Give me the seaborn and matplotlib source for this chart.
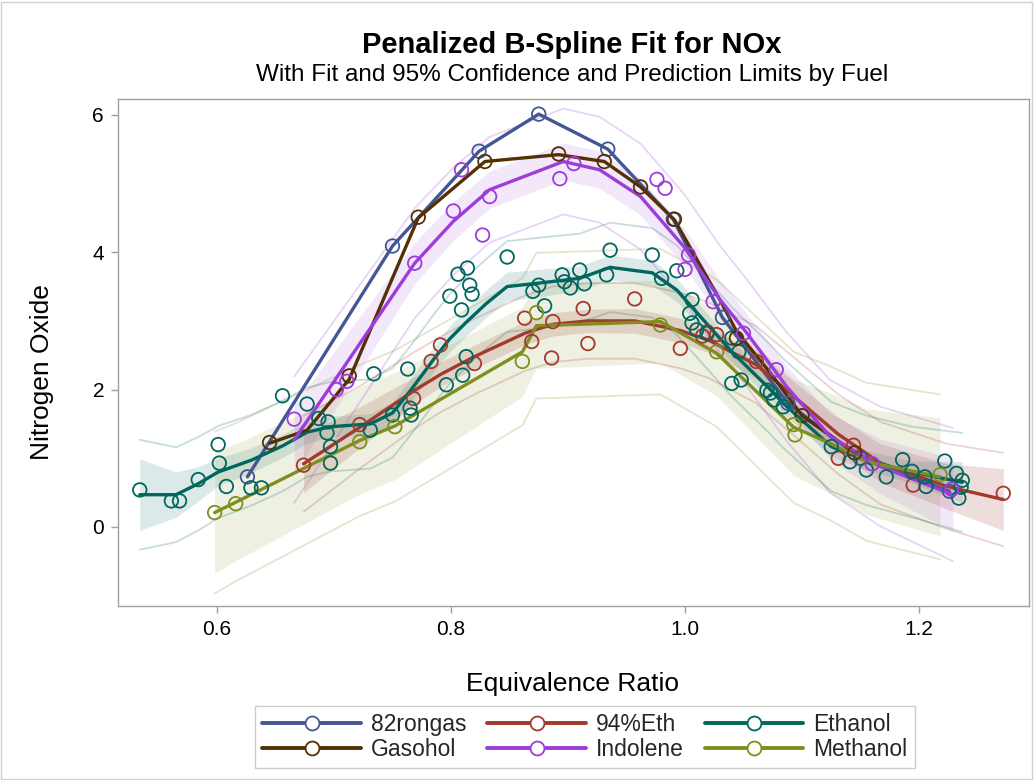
import numpy as np
import pandas as pd
import matplotlib
matplotlib.use("Agg")
import matplotlib.pyplot as plt
import seaborn as sns
from matplotlib.lines import Line2D
from matplotlib.patches import Rectangle

sns.set_theme(style="white")
plt.rcParams["font.family"] = ["Liberation Sans", "DejaVu Sans"]

fuels = ["82rongas", "94%Eth", "Ethanol", "Gasohol", "Indolene", "Methanol"]
colors = ["#445694", "#A23A2E", "#01665E", "#543005", "#9D3CDB", "#7F8E1F"]

# ---------------- observations ----------------
rongas_x = [0.626, 0.750, 0.824, 0.875, 0.934, 0.990, 1.032, 1.088, 1.150, 1.226]
rongas_y = [0.73, 4.09, 5.47, 6.01, 5.50, 4.48, 3.05, 1.80, 1.00, 0.52]

eth94_x = [0.674, 0.722, 0.768, 0.783, 0.791, 0.820, 0.863, 0.869, 0.886, 0.887, 0.913,
           0.917, 0.957, 0.996, 1.015, 1.019, 1.027, 1.061, 1.131, 1.144, 1.195, 1.272]
eth94_y = [0.90, 1.49, 1.87, 2.41, 2.65, 2.38, 3.04, 2.70, 2.46, 2.99, 3.18,
           2.67, 3.32, 2.60, 2.78, 2.84, 2.80, 2.41, 1.00, 1.19, 0.61, 0.49]

ethanol_x = [0.534, 0.561, 0.568, 0.584, 0.601, 0.602, 0.608, 0.629, 0.638, 0.656, 0.677,
             0.687, 0.695, 0.694, 0.697, 0.697, 0.731, 0.734, 0.750, 0.763, 0.765, 0.766,
             0.796, 0.799, 0.806, 0.809, 0.810, 0.813, 0.814, 0.816, 0.818, 0.848, 0.870,
             0.875, 0.880, 0.895, 0.897, 0.902, 0.910, 0.914, 0.933, 0.936, 0.972, 0.980,
             0.993, 1.004, 1.006, 1.006, 1.010, 1.019, 1.040, 1.040, 1.046, 1.048, 1.070,
             1.073, 1.076, 1.084, 1.125, 1.141, 1.155, 1.172, 1.186, 1.194, 1.205, 1.206,
             1.222, 1.232, 1.237, 1.236, 1.234]
ethanol_y = [0.54, 0.38, 0.38, 0.69, 1.20, 0.93, 0.59, 0.57, 0.57, 1.91, 1.79,
             1.58, 1.53, 1.37, 1.17, 0.93, 1.41, 2.23, 1.63, 2.30, 1.73, 1.63,
             2.07, 3.36, 3.68, 3.16, 2.21, 2.48, 3.77, 3.52, 3.39, 3.93, 3.43,
             3.52, 3.22, 3.67, 3.57, 3.48, 3.74, 3.54, 3.67, 4.03, 3.96, 3.62,
             3.73, 3.11, 3.31, 2.97, 2.87, 2.82, 2.75, 2.09, 2.55, 2.14, 1.99,
             1.95, 1.85, 1.75, 1.17, 0.95, 0.83, 0.73, 0.98, 0.81, 0.73, 0.59,
             0.96, 0.78, 0.68, 0.58, 0.42]

gasohol_x = [0.645, 0.713, 0.772, 0.829, 0.892, 0.931, 0.962, 0.991, 1.044, 1.100, 1.145]
gasohol_y = [1.23, 2.20, 4.51, 5.32, 5.43, 5.32, 4.95, 4.48, 2.75, 1.62, 1.08]

indolene_x = [0.666, 0.702, 0.711, 0.769, 0.802, 0.809, 0.827, 0.833, 0.893, 0.905,
              0.976, 0.983, 1.000, 1.003, 1.024, 1.050, 1.078, 1.160, 1.228]
indolene_y = [1.57, 2.00, 2.12, 3.84, 4.60, 5.20, 4.25, 4.81, 5.07, 5.29,
              5.06, 4.93, 3.75, 3.96, 3.28, 2.82, 2.29, 0.92, 0.55]

methanol_x = [0.598, 0.616, 0.722, 0.752, 0.861, 0.873, 0.979, 1.027, 1.093, 1.094, 1.218]
methanol_y = [0.21, 0.34, 1.24, 1.46, 2.41, 3.12, 2.94, 2.55, 1.49, 1.34, 0.76]

# ---------------- fitted curves ----------------
rongas_fx = [0.626, 0.750, 0.824, 0.875, 0.934, 0.990, 1.032, 1.088, 1.150, 1.226]
rongas_fy = [0.73, 4.09, 5.47, 6.01, 5.50, 4.48, 3.05, 1.80, 1.00, 0.52]

eth94_fx = [0.674, 0.722, 0.768, 0.791, 0.820, 0.863, 0.887, 0.917, 0.957, 0.996, 1.020,
            1.061, 1.100, 1.131, 1.167, 1.224, 1.272]
eth94_fy = [0.92, 1.45, 1.98, 2.22, 2.48, 2.82, 2.95, 3.00, 3.00, 2.86, 2.72,
            2.36, 1.80, 1.35, 0.93, 0.59, 0.40]
eth94_clm = [0.42, 0.30, 0.20, 0.18, 0.17, 0.17, 0.17, 0.17, 0.18, 0.18, 0.18,
             0.20, 0.22, 0.25, 0.28, 0.33, 0.45]
eth94_pi = [0.70, 0.60, 0.56, 0.55, 0.55, 0.55, 0.55, 0.55, 0.55, 0.55, 0.55,
            0.56, 0.57, 0.58, 0.60, 0.62, 0.68]

ethanol_fx = [0.534, 0.565, 0.584, 0.601, 0.629, 0.656, 0.677, 0.697, 0.731, 0.750, 0.766,
              0.786, 0.799, 0.813, 0.830, 0.848, 0.875, 0.910, 0.936, 0.972, 0.993, 1.006,
              1.040, 1.073, 1.084, 1.125, 1.155, 1.194, 1.237]
ethanol_fy = [0.47, 0.47, 0.63, 0.80, 0.97, 1.18, 1.38, 1.46, 1.50, 1.66, 2.00,
              2.46, 2.74, 2.98, 3.25, 3.50, 3.55, 3.62, 3.78, 3.70, 3.45, 3.20,
              2.55, 2.00, 1.80, 1.17, 0.97, 0.80, 0.65]
ethanol_clm = [0.52, 0.33, 0.25, 0.20, 0.18, 0.17, 0.16, 0.15, 0.15, 0.16, 0.17,
               0.18, 0.19, 0.20, 0.20, 0.21, 0.20, 0.18, 0.18, 0.18, 0.17, 0.16,
               0.15, 0.15, 0.15, 0.14, 0.14, 0.16, 0.30]
ethanol_pi = [0.80, 0.69, 0.68, 0.67, 0.66, 0.66, 0.65, 0.65, 0.65, 0.65, 0.65,
              0.65, 0.65, 0.65, 0.65, 0.66, 0.66, 0.65, 0.65, 0.65, 0.65, 0.65,
              0.65, 0.65, 0.65, 0.65, 0.65, 0.66, 0.72]

gasohol_fx = [0.645, 0.677, 0.713, 0.772, 0.829, 0.892, 0.931, 0.962, 0.991, 1.030, 1.044,
              1.073, 1.100, 1.145]
gasohol_fy = [1.22, 1.41, 2.15, 4.50, 5.32, 5.42, 5.32, 4.95, 4.47, 3.30, 2.85,
              2.24, 1.62, 1.08]

indolene_fx = [0.666, 0.769, 0.802, 0.833, 0.896, 0.927, 0.962, 0.999, 1.030, 1.053,
               1.087, 1.124, 1.167, 1.229]
indolene_fy = [1.27, 3.84, 4.45, 4.91, 5.32, 5.20, 4.81, 4.08, 3.31, 2.82,
               2.04, 1.32, 0.88, 0.47]
indolene_clm = [0.50, 0.30, 0.28, 0.27, 0.27, 0.27, 0.27, 0.27, 0.28, 0.28,
                0.30, 0.33, 0.40, 0.53]
indolene_pi = [0.92, 0.80, 0.78, 0.77, 0.77, 0.77, 0.77, 0.77, 0.78, 0.78,
               0.79, 0.82, 0.87, 0.97]

methanol_fx = [0.598, 0.616, 0.722, 0.752, 0.861, 0.873, 0.979, 1.027, 1.093, 1.124, 1.155, 1.218]
methanol_fy = [0.21, 0.36, 1.26, 1.47, 2.55, 2.93, 2.99, 2.53, 1.45, 1.22, 0.95, 0.73]
methanol_clm = [0.89, 0.85, 0.78, 0.78, 0.65, 0.62, 0.60, 0.62, 0.70, 0.73, 0.77, 0.86]
methanol_pi = [1.18, 1.15, 1.10, 1.10, 1.07, 1.06, 1.06, 1.07, 1.10, 1.12, 1.15, 1.20]

obs = pd.concat([
    pd.DataFrame({"Fuel": f, "EqRatio": x, "NOx": y})
    for f, x, y in zip(fuels,
                       [rongas_x, eth94_x, ethanol_x, gasohol_x, indolene_x, methanol_x],
                       [rongas_y, eth94_y, ethanol_y, gasohol_y, indolene_y, methanol_y])
], ignore_index=True)

fits = pd.concat([
    pd.DataFrame({"Fuel": f, "EqRatio": x, "Fit": y})
    for f, x, y in zip(fuels,
                       [rongas_fx, eth94_fx, ethanol_fx, gasohol_fx, indolene_fx, methanol_fx],
                       [rongas_fy, eth94_fy, ethanol_fy, gasohol_fy, indolene_fy, methanol_fy])
], ignore_index=True)

limits = {
    "94%Eth": (eth94_fx, eth94_fy, eth94_clm, eth94_pi),
    "Ethanol": (ethanol_fx, ethanol_fy, ethanol_clm, ethanol_pi),
    "Indolene": (indolene_fx, indolene_fy, indolene_clm, indolene_pi),
    "Methanol": (methanol_fx, methanol_fy, methanol_clm, methanol_pi),
}
band_alpha = {"94%Eth": 0.17, "Ethanol": 0.14, "Indolene": 0.12, "Methanol": 0.13}

pal = dict(zip(fuels, colors))

fig = plt.figure(figsize=(10.34, 7.80), dpi=100)
ax = fig.add_axes([118 / 1034, (780 - 606) / 780, (1029 - 118) / 1034, (606 - 99) / 780])

# confidence bands
for f in fuels:
    if f in limits:
        fx, fy, clm, pi = (np.array(v) for v in limits[f])
        ax.fill_between(fx, fy - clm, fy + clm, color=pal[f], alpha=band_alpha[f], lw=0, zorder=1)
# prediction limits
for f in fuels:
    if f in limits:
        fx, fy, clm, pi = (np.array(v) for v in limits[f])
        ax.plot(fx, fy + pi, color=pal[f], alpha=0.22, lw=1.3, zorder=2)
        ax.plot(fx, fy - pi, color=pal[f], alpha=0.22, lw=1.3, zorder=2)

# fits
sns.lineplot(data=fits, x="EqRatio", y="Fit", hue="Fuel", hue_order=fuels, palette=pal,
             estimator=None, lw=2.4, legend=False, ax=ax, zorder=3)

# observations (hollow circles)
sns.scatterplot(data=obs, x="EqRatio", y="NOx", hue="Fuel", hue_order=fuels, palette=pal,
                s=95, linewidth=1.3, legend=False, ax=ax, zorder=4)
coll = ax.collections[-1]
fc = coll.get_facecolors()
coll.set_edgecolors(fc)
coll.set_facecolors("none")

ax.set_xlim(0.5154, 1.2940)
ax.set_ylim(-1.15, 6.23)
ax.set_xticks([0.6, 0.8, 1.0, 1.2])
ax.set_xticklabels(["0.6", "0.8", "1.0", "1.2"])
ax.set_yticks([0, 2, 4, 6])
ax.set_yticklabels(["0", "2", "4", "6"])
ax.tick_params(axis="both", which="both", direction="out", length=5, width=1,
               color="#a0a0a0", labelsize=15, labelcolor="black", pad=5,
               bottom=True, left=True)
for s in ax.spines.values():
    s.set_color("#a0a0a0")
    s.set_linewidth(1)
ax.set_xlabel("Equivalence Ratio", fontsize=19, color="black")
ax.set_ylabel("Nitrogen Oxide", fontsize=19, color="black")
ax.xaxis.set_label_coords((573 - 118) / 911, -(684 - 606) / 507)
ax.yaxis.set_label_coords(-(118 - 42) / 911, (606 - 372) / 507)
ax.xaxis.label.set_va("center")
ax.yaxis.label.set_va("center")

fig.text(572 / 1034, 1 - 45 / 780, "Penalized B-Spline Fit for NOx", ha="center", va="center",
         fontsize=21, fontweight="bold", color="black")
fig.text(572 / 1034, 1 - 75 / 780, "With Fit and 95% Confidence and Prediction Limits by Fuel",
         ha="center", va="center", fontsize=17.5, color="black")

handles = {f: Line2D([0], [0], color=c, lw=2.8, marker="o", markersize=10,
                     markerfacecolor="white", markeredgecolor=c, markeredgewidth=1.3)
           for f, c in zip(fuels, colors)}
leg_order = ["82rongas", "Gasohol", "94%Eth", "Indolene", "Ethanol", "Methanol"]
leg = fig.legend([handles[f] for f in leg_order], leg_order, loc="center",
                 bbox_to_anchor=(585 / 1034, 1 - 737 / 780),
                 ncol=3, fontsize=16.5, frameon=True, fancybox=False, handlelength=4.3,
                 handletextpad=0.45, columnspacing=0.9, labelspacing=0.12,
                 borderpad=0.3, edgecolor="#c0c0c0")
leg.get_frame().set_linewidth(1)

fig.patches.append(Rectangle((0.001, 0.001), 0.997, 0.997, transform=fig.transFigure,
                             fill=False, edgecolor="#d0d0d0", lw=1))

fig.savefig("out.png", dpi=100)
